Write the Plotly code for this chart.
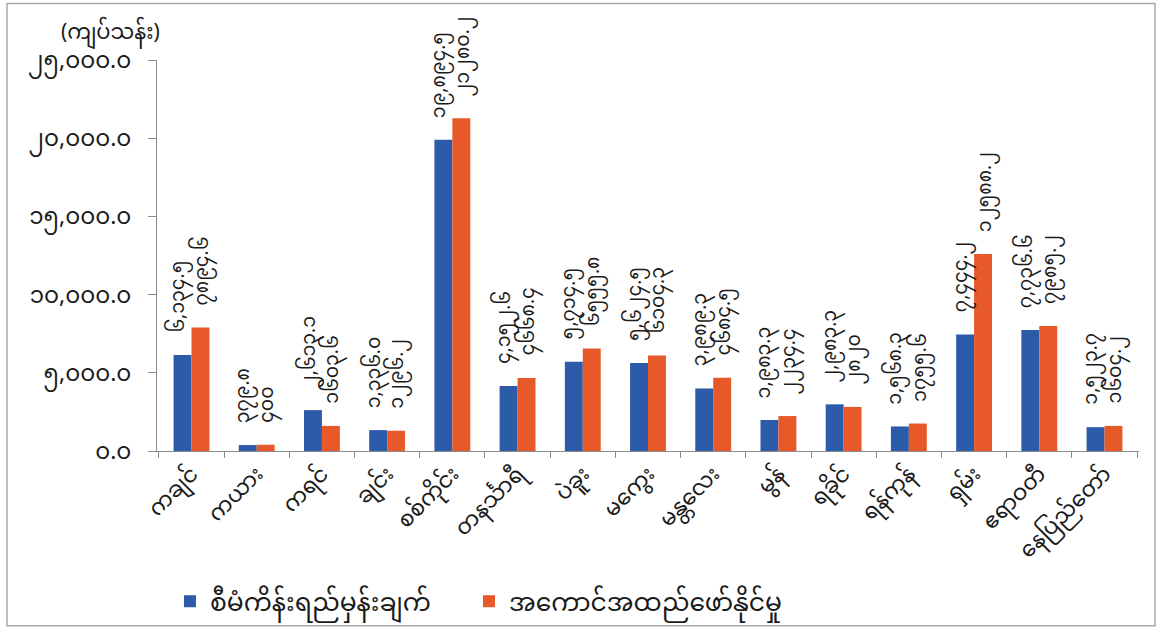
import plotly.graph_objects as go

# Regions / states
categories = ["ကချင်", "ကယား", "ကရင်", "ချင်း", "စစ်ကိုင်း", "တနင်္သာရီ", "ပဲခူး",
              "မကွေး", "မန္တလေး", "မွန်", "ရခိုင်", "ရန်ကုန်", "ရှမ်း", "ဧရာဝတီ", "နေပြည်တော်"]

# Planned target (kyat million)
plan_values = [6134.5, 379.8, 2613.1, 1336.0, 19894.5, 4152.6, 5714.5,
               5624.5, 3989.3, 1983.3, 2983.3, 1568.3, 7444.2, 7736.6, 1523.7]

# Achieved implementation (kyat million)
actual_values = [7894.6, 400.0, 1603.6, 1296.2, 21280.2, 4668.4, 6555.8,
                 6104.3, 4684.5, 2234.4, 2820.0, 1755.6, 12588.2, 7985.2, 1604.2]

series_names = ["စီမံကိန်းရည်မှန်းချက်", "အကောင်အထည်ဖော်နိုင်မှု"]
y_tick_values = [0, 5000, 10000, 15000, 20000, 25000]
unit_label = "(ကျပ်သန်း)"

MM_DIGITS = str.maketrans("0123456789", "၀၁၂၃၄၅၆၇၈၉")


def mm_number(v, commas=True):
    if float(v).is_integer() and not commas:
        s = f"{int(v)}"
    else:
        s = f"{v:,.1f}" if commas else f"{v:.1f}"
    return s.translate(MM_DIGITS)


FONT = "Noto Sans Myanmar, Padauk, Myanmar Text, Noto Sans, sans-serif"
BLUE = "#2C5CA9"
ORANGE = "#E8592A"
INK = "#1a1a1a"

fig = go.Figure()
fig.add_trace(go.Bar(x=categories, y=plan_values, name=series_names[0],
                     marker_color=BLUE, marker_line_width=0, legend="legend"))
fig.add_trace(go.Bar(x=categories, y=actual_values, name=series_names[1],
                     marker_color=ORANGE, marker_line_width=0, legend="legend2"))

# Rotated value labels above each bar
for cat, v in zip(categories, plan_values):
    fig.add_annotation(x=cat, y=v, text=mm_number(v, True), textangle=-90,
                       showarrow=False, xanchor="center", yanchor="bottom",
                       xshift=-12, yshift=20,
                       font=dict(family=FONT, size=19, color=INK))
for cat, v in zip(categories, actual_values):
    fig.add_annotation(x=cat, y=v, text=mm_number(v, False), textangle=-90,
                       showarrow=False, xanchor="center", yanchor="bottom",
                       xshift=12, yshift=20,
                       font=dict(family=FONT, size=19, color=INK))

# Unit label above the value axis
fig.add_annotation(x=-0.1, y=1.0, xref="paper", yref="paper", text=unit_label,
                   showarrow=False, xanchor="left", yanchor="bottom", yshift=1,
                   font=dict(family=FONT, size=21, color=INK))

# Outer frame
fig.add_shape(type="rect", xref="paper", yref="paper",
              x0=-0.1527, x1=1.0163, y0=-0.447, y1=1.1447,
              line=dict(color="#a8a8a8", width=1.5), fillcolor="rgba(0,0,0,0)")

legend_style = dict(orientation="h", y=-0.385, yanchor="middle", xanchor="left",
                    font=dict(family=FONT, size=25, color=INK), itemwidth=30,
                    bgcolor="rgba(0,0,0,0)")

fig.update_layout(
    width=1162, height=637,
    margin=dict(l=157, r=23, t=60, b=183),
    paper_bgcolor="white", plot_bgcolor="white",
    barmode="group", bargap=0.45, bargroupgap=0,
    font=dict(family=FONT, size=18, color=INK),
    legend=dict(x=0.0132, **legend_style),
    legend2=dict(x=0.3177, **legend_style),
    showlegend=True,
)
fig.update_xaxes(type="category", tickangle=-45, showline=True, linecolor="#8c8c8c",
                 linewidth=1.2, ticks="outside", tickson="boundaries", ticklen=6,
                 tickcolor="#8c8c8c", showgrid=False,
                 tickfont=dict(family=FONT, size=22, color=INK))
fig.update_yaxes(range=[0, 25000], tickvals=y_tick_values,
                 ticktext=[mm_number(v, True) for v in y_tick_values],
                 showline=True, linecolor="#8c8c8c", linewidth=1.2, ticks="outside",
                 ticklen=8, tickcolor="#8c8c8c", showgrid=False, zeroline=False,
                 ticklabelstandoff=12,
                 tickfont=dict(family=FONT, size=23, color=INK))

fig.write_html("out.html")
